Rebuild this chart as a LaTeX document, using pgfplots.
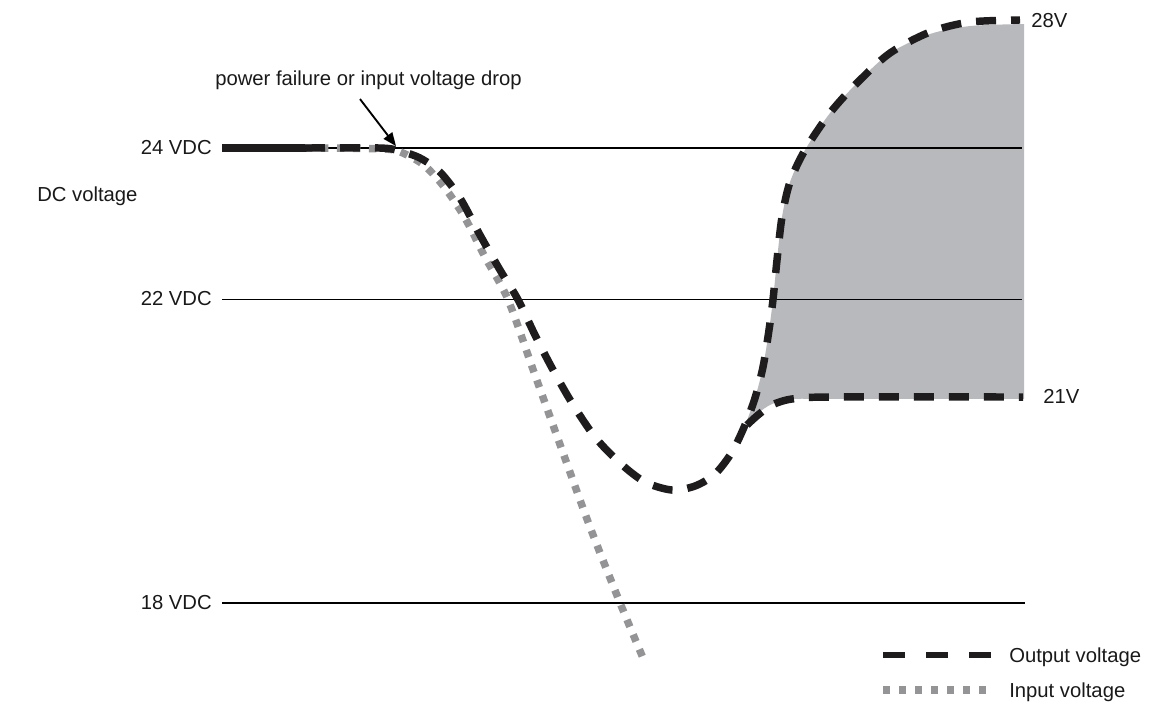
\documentclass[border=0pt]{standalone}
\usepackage{pgfplots}
\pgfplotsset{compat=1.18}
\usepgfplotslibrary{fillbetween}
\usetikzlibrary{arrows.meta}
\usepackage{fontspec}
\setmainfont{Liberation Sans}
\definecolor{fillgray}{RGB}{184,185,189}
\definecolor{dotgray}{RGB}{148,148,150}
\definecolor{curveblack}{RGB}{30,28,29}
\begin{document}
\begin{tikzpicture}[lbl/.style={font=\fontsize{15.2}{18}\selectfont, text=black!90, inner sep=0pt}]
\begin{axis}[
  scale only axis, width=862.5pt, height=528.75pt,
  xmin=0, xmax=1150, ymin=16.652, ymax=25.953,
  hide axis, clip=false,
]
\path (rel axis cs:0,0) rectangle (rel axis cs:1,1);
% shaded tolerance band
\addplot[name path=up, draw=none, smooth] coordinates {
 (746,20.372) (755,20.702) (763,21.111) (769,21.599) (773,22.0) (777,22.522)
 (782,23.090) (790,23.551) (805,23.974) (830,24.462) (857,24.858) (890,25.253)
 (930,25.504) (970,25.609) (1024,25.636)};
\addplot[name path=lo, draw=none, smooth] coordinates {
 (746,20.372) (758,20.504) (772,20.623) (792,20.689) (830,20.689) (1024,20.689)};
\addplot[fill=fillgray, draw=none] fill between[of=up and lo];
% reference levels
\addplot[black, line width=1.1pt] coordinates {(222,24) (1022,24)};
\addplot[black, line width=1.1pt] coordinates {(222,22) (1022,22)};
\addplot[black, line width=1.1pt] coordinates {(222,18) (1025,18)};
% input voltage
\addplot[dotgray, line width=5.6pt, dash pattern=on 5.6pt off 6.4pt, smooth] coordinates {
 (305,24.0) (385,23.987) (405,23.921) (425,23.763) (445,23.472) (465,23.077)
 (485,22.562) (508,22.0) (535,21.005) (562,20.016) (590,19.0) (620,18.0) (643,17.272)};
% output voltage
\addplot[curveblack, line width=5.6pt] coordinates {(222,24) (305,24)};
\addplot[curveblack, line width=5.6pt, dash pattern=on 15pt off 11.25pt, smooth] coordinates {
 (305,24.0) (380,24.0) (400,23.960) (420,23.868) (440,23.683) (460,23.340)
 (480,22.852) (500,22.391) (518,22.0) (535,21.533) (552,21.098) (572,20.636)
 (595,20.187) (620,19.844) (645,19.594) (672,19.488) (695,19.541) (715,19.699)
 (732,19.989) (745,20.346) (755,20.702) (763,21.111) (769,21.599) (773,22.0)
 (777,22.522) (782,23.090) (790,23.551) (805,23.974) (830,24.462) (857,24.858)
 (890,25.253) (930,25.530) (970,25.662) (1020,25.689)};
\addplot[curveblack, line width=5.6pt, dash pattern=on 15pt off 11.25pt, smooth] coordinates {
 (747,20.346) (758,20.478) (772,20.610) (792,20.689) (830,20.715) (1023,20.715)};
% legend samples
\addplot[curveblack, line width=4.8pt, dash pattern=on 16.5pt off 15.75pt] coordinates {(883,17.311) (992,17.311)};
\addplot[dotgray, line width=5.4pt, dash pattern=on 5.4pt off 6.6pt] coordinates {(883,16.850) (990,16.850)};
% annotations
\draw[black, line width=1.4pt, -{Triangle[length=10pt,width=8pt]}] (axis cs:360,24.646) -- (axis cs:396,24.026);
\node[lbl, anchor=base west] at (axis cs:215,24.830) {power failure or input voltage drop};
\node[lbl, anchor=base east] at (axis cs:212,23.921) {24 VDC};
\node[lbl, anchor=base east] at (axis cs:212,21.916) {22 VDC};
\node[lbl, anchor=base east] at (axis cs:212,17.918) {18 VDC};
\node[lbl, anchor=base west] at (axis cs:37,23.288) {DC voltage};
\node[lbl, anchor=base west] at (axis cs:1031,25.596) {28V};
\node[lbl, anchor=base west] at (axis cs:1043,20.623) {21V};
\node[lbl, anchor=base west] at (axis cs:1009,17.219) {Output voltage};
\node[lbl, anchor=base west] at (axis cs:1009,16.757) {Input voltage};
\end{axis}
\end{tikzpicture}
\end{document}
